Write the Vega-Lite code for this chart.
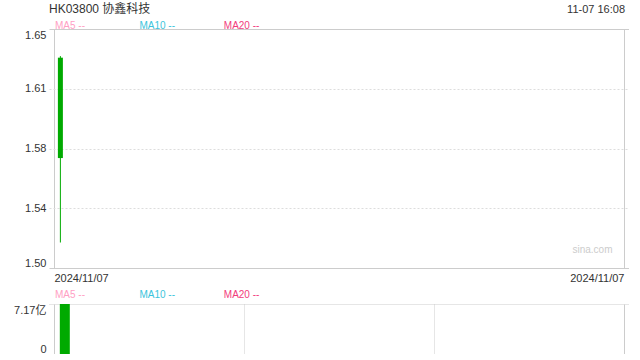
{
  "$schema": "https://vega.github.io/schema/vega-lite/v6.json",
  "autosize": {"type": "pad"},
  "padding": {"left": 13, "top": 2, "right": 0, "bottom": 0},
  "background": "white",
  "config": {
    "view": {"stroke": null},
    "font": "Liberation Sans, Arial, Noto Sans CJK SC, sans-serif",
    "axis": {"labelFont": "Liberation Sans, Arial, Noto Sans CJK SC, sans-serif", "labelColor": "#333333", "labelFontSize": 11, "ticks": false, "domain": false, "title": null},
    "legend": {"labelFont": "Liberation Sans, Arial, sans-serif"}
  },
  "datasets": {
    "kline": [
      {"date": "2024-11-07T00:00:00Z", "open": 1.632, "high": 1.633, "low": 1.516, "close": 1.569, "volume": 717000000}
    ],
    "ma": [
      {"ma": "MA5"},
      {"ma": "MA10"},
      {"ma": "MA20"}
    ]
  },
  "vconcat": [
    {
      "width": 580,
      "height": 239,
      "title": {"text": "HK03800 协鑫科技", "anchor": "start", "frame": "group", "fontSize": 12, "fontWeight": "normal", "color": "#333333", "font": "Liberation Sans, Arial, Noto Sans CJK SC, sans-serif", "offset": -11.5},
      "layer": [
        {
          "data": {"name": "kline"},
          "mark": {"type": "rule", "color": "#00aa00", "strokeWidth": 1},
          "encoding": {
            "x": {"field": "date", "type": "temporal",
              "scale": {"domain": [{"year": 2024, "month": 11, "date": 6, "hours": 11, "utc": true}, {"year": 2024, "month": 12, "date": 24, "hours": 19, "utc": true}]},
              "axis": {"values": [{"year": 2024, "month": 11, "date": 6, "hours": 11, "utc": true}, {"year": 2024, "month": 12, "date": 24, "hours": 19, "utc": true}],
                "labelExpr": "'2024/11/07'", "labelFlush": true, "labelPadding": 4, "labelFontSize": 11,
                "labelAlign": {"condition": {"test": "+datum.value <= utc(2024,10,6,11)", "value": "left"}, "value": "right"},
                "grid": true, "gridColor": "#cccccc", "gridDash": []}},
            "y": {"field": "low", "type": "quantitative",
              "scale": {"domain": [1.5, 1.65], "nice": false, "zero": false},
              "axis": {"values": [1.5, 1.5375, 1.575, 1.6125, 1.65], "labelExpr": "format(datum.value + 0.000001, '.2f')",
                "labelFlush": true, "labelPadding": 3, "grid": true,
                "gridColor": {"condition": {"test": "datum.value <= 1.5 || datum.value >= 1.65", "value": "#cccccc"}, "value": "#dddddd"},
                "gridDash": {"condition": {"test": "datum.value <= 1.5 || datum.value >= 1.65", "value": []}, "value": [2, 2]}}},
            "y2": {"field": "high"}
          }
        },
        {
          "data": {"name": "kline"},
          "mark": {"type": "bar", "color": "#00aa00", "size": 5},
          "encoding": {
            "x": {"field": "date", "type": "temporal"},
            "y": {"field": "open", "type": "quantitative"},
            "y2": {"field": "close"}
          }
        },
        {
          "data": {"name": "ma"},
          "mark": {"type": "point", "opacity": 0},
          "encoding": {
            "color": {"field": "ma", "type": "nominal",
              "scale": {"domain": ["MA5", "MA10", "MA20"], "range": ["#ffa0c4", "#3cc4dc", "#f23c7c"]},
              "legend": {"orient": "top", "direction": "horizontal", "title": null, "columns": 3, "gridAlign": "all", "columnPadding": 42.4,
                "symbolSize": 0, "symbolOpacity": 0, "symbolStrokeWidth": 0, "labelOffset": -4, "padding": 0, "offset": -2,
                "labelFontSize": 10, "labelExpr": "datum.label + ' --'",
                "labelColor": {"expr": "datum.value === 'MA5' ? '#ffa0c4' : datum.value === 'MA10' ? '#3cc4dc' : '#f23c7c'"}}}
          }
        },
        {
          "data": {"values": [{"stamp": "11-07 16:08"}]},
          "mark": {"type": "text", "align": "right", "baseline": "middle", "dx": 1, "dy": -19, "fontSize": 11, "color": "#333333"},
          "encoding": {
            "text": {"field": "stamp"},
            "x": {"datum": {"year": 2024, "month": 12, "date": 24, "hours": 19, "utc": true}},
            "y": {"datum": 1.65}
          }
        },
        {
          "data": {"values": [{"mark": "sina.com"}]},
          "mark": {"type": "text", "align": "right", "baseline": "middle", "dx": -11.5, "dy": -18.5, "fontSize": 10, "color": "#cccccc"},
          "encoding": {
            "text": {"field": "mark"},
            "x": {"datum": {"year": 2024, "month": 12, "date": 24, "hours": 19, "utc": true}},
            "y": {"datum": 1.5}
          }
        }
      ]
    },
    {
      "width": 580,
      "height": 50,
      "layer": [
        {
          "data": {"name": "kline"},
          "mark": {"type": "bar", "color": "#00aa00", "size": 10},
          "encoding": {
            "x": {"field": "date", "type": "temporal",
              "scale": {"domain": [{"year": 2024, "month": 11, "date": 6, "hours": 13, "utc": true}, {"year": 2024, "month": 11, "date": 30, "hours": 17, "utc": true}]},
              "axis": {"values": [{"year": 2024, "month": 11, "date": 6, "hours": 13, "utc": true}, {"year": 2024, "month": 11, "date": 14, "hours": 14, "minutes": 20, "utc": true}, {"year": 2024, "month": 11, "date": 22, "hours": 15, "minutes": 40, "utc": true}, {"year": 2024, "month": 11, "date": 30, "hours": 17, "utc": true}],
                "labels": false, "grid": true, "gridColor": "#cccccc",
                "gridDash": {"condition": {"test": "+datum.value <= utc(2024,10,6,13) || +datum.value >= utc(2024,10,30,17)", "value": []}, "value": [1, 1]}}},
            "y": {"field": "volume", "type": "quantitative",
              "scale": {"domain": [0, 717000000], "nice": false},
              "axis": {"values": [0, 717000000], "labelExpr": "datum.value == 0 ? '0' : format(datum.value / 100000000, '.2f') + '亿'",
                "labelFlush": true, "labelPadding": 3, "grid": true, "gridColor": "#cccccc", "gridDash": [1, 1]}},
            "y2": {"datum": 0}
          }
        },
        {
          "data": {"name": "ma"},
          "mark": {"type": "point", "opacity": 0},
          "encoding": {
            "color": {"field": "ma", "type": "nominal",
              "scale": {"domain": ["MA5", "MA10", "MA20"], "range": ["#ffa0c4", "#3cc4dc", "#f23c7c"]},
              "legend": {"orient": "top", "direction": "horizontal", "title": null, "columns": 3, "gridAlign": "all", "columnPadding": 42.4,
                "symbolSize": 0, "symbolOpacity": 0, "symbolStrokeWidth": 0, "labelOffset": -4, "padding": 0, "offset": 4,
                "labelFontSize": 10, "labelExpr": "datum.label + ' --'",
                "labelColor": {"expr": "datum.value === 'MA5' ? '#ffa0c4' : datum.value === 'MA10' ? '#3cc4dc' : '#f23c7c'"}}}
          }
        }
      ]
    }
  ],
  "spacing": 36,
  "bounds": "flush",
  "resolve": {"scale": {"x": "independent", "y": "independent", "color": "independent"}, "legend": {"color": "independent"}}
}
